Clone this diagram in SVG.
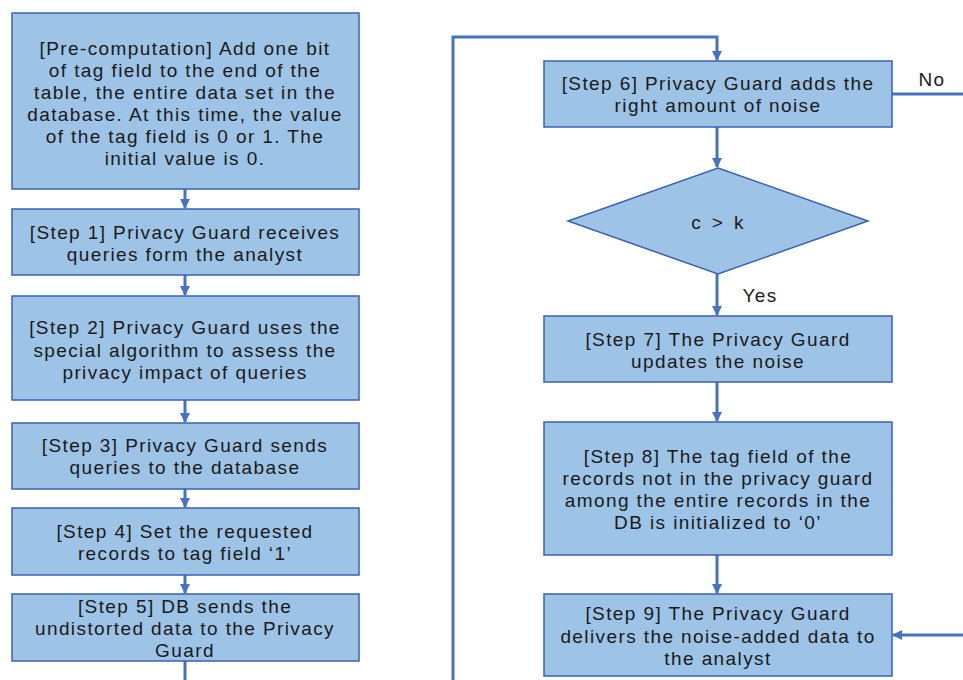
<svg xmlns="http://www.w3.org/2000/svg" width="963" height="680" viewBox="0 0 963 680">
<style>
.box{fill:#9DC3E6;stroke:#3A62B0;stroke-width:1.5}
.t{font-family:"Liberation Sans",Arial,sans-serif;font-size:19px;letter-spacing:1.4px;fill:#1a1a1a;text-anchor:middle;dominant-baseline:central}
.c{fill:none;stroke:#4472C4;stroke-width:3}
</style>
<defs>
<marker id="ah" viewBox="0 0 10 10" refX="9" refY="5" markerWidth="3.6" markerHeight="3.4" orient="auto" markerUnits="strokeWidth">
<path d="M0,0 L10,5 L0,10 z" fill="#4472C4"/>
</marker>
</defs>
<rect width="963" height="680" fill="#fff"/>
<g id="connectors">
<path class="c" d="M185,189 V208" marker-end="url(#ah)"/>
<path class="c" d="M185,275 V295" marker-end="url(#ah)"/>
<path class="c" d="M185,400 V422" marker-end="url(#ah)"/>
<path class="c" d="M185,489 V507" marker-end="url(#ah)"/>
<path class="c" d="M185,575 V593" marker-end="url(#ah)"/>
<path class="c" d="M185,661 V680"/>
<path class="c" d="M453,680 V37 H717 V60" marker-end="url(#ah)"/>
<path class="c" d="M717,127 V167" marker-end="url(#ah)"/>
<path class="c" d="M717,274 V315" marker-end="url(#ah)"/>
<path class="c" d="M717,382 V421" marker-end="url(#ah)"/>
<path class="c" d="M717,555 V593" marker-end="url(#ah)"/>
<path class="c" d="M892,94 H963"/>
<path class="c" d="M963,635 H893" marker-end="url(#ah)"/>
</g>
<g id="pre">
<rect class="box" x="12" y="13" width="347" height="176"/>
<text class="t" x="185" y="48">[Pre-computation] Add one bit</text>
<text class="t" x="185" y="70">of tag field to the end of the</text>
<text class="t" x="185" y="92">table, the entire data set in the</text>
<text class="t" x="185" y="114">database. At this time, the value</text>
<text class="t" x="185" y="136">of the tag field is 0 or 1. The</text>
<text class="t" x="185" y="158">initial value is 0.</text>
</g>
<g id="step1">
<rect class="box" x="12" y="209" width="347" height="66"/>
<text class="t" x="185" y="232">[Step 1] Privacy Guard receives</text>
<text class="t" x="185" y="254">queries form the analyst</text>
</g>
<g id="step2">
<rect class="box" x="12" y="296" width="347" height="104"/>
<text class="t" x="185" y="327">[Step 2] Privacy Guard uses the</text>
<text class="t" x="185" y="350">special algorithm to assess the</text>
<text class="t" x="185" y="372">privacy impact of queries</text>
</g>
<g id="step3">
<rect class="box" x="12" y="423" width="347" height="66"/>
<text class="t" x="185" y="445">[Step 3] Privacy Guard sends</text>
<text class="t" x="185" y="467">queries to the database</text>
</g>
<g id="step4">
<rect class="box" x="12" y="508" width="347" height="67"/>
<text class="t" x="185" y="531">[Step 4] Set the requested</text>
<text class="t" x="185" y="553">records to tag field ‘1’</text>
</g>
<g id="step5">
<rect class="box" x="12" y="594" width="347" height="67"/>
<text class="t" x="185" y="606">[Step 5] DB sends the</text>
<text class="t" x="185" y="628">undistorted data to the Privacy</text>
<text class="t" x="185" y="650">Guard</text>
</g>
<g id="step6">
<rect class="box" x="544" y="61" width="348" height="66"/>
<text class="t" x="718" y="83">[Step 6] Privacy Guard adds the</text>
<text class="t" x="718" y="105">right amount of noise</text>
</g>
<g id="decision">
<polygon class="box" points="718,168 868,221 718,274 568,221"/>
<text class="t" x="718" y="222" style="word-spacing:3px">c &gt; k</text>
</g>
<g id="step7">
<rect class="box" x="544" y="316" width="348" height="66"/>
<text class="t" x="718" y="339">[Step 7] The Privacy Guard</text>
<text class="t" x="718" y="361">updates the noise</text>
</g>
<g id="step8">
<rect class="box" x="544" y="422" width="348" height="133"/>
<text class="t" x="718" y="456">[Step 8] The tag field of the</text>
<text class="t" x="718" y="478">records not in the privacy guard</text>
<text class="t" x="718" y="500">among the entire records in the</text>
<text class="t" x="718" y="522">DB is initialized to ‘0’</text>
</g>
<g id="step9">
<rect class="box" x="544" y="594" width="348" height="82"/>
<text class="t" x="718" y="613">[Step 9] The Privacy Guard</text>
<text class="t" x="718" y="636">delivers the noise-added data to</text>
<text class="t" x="718" y="658">the analyst</text>
</g>
<g id="labels">
<text class="t" x="932" y="79">No</text>
<text class="t" x="760" y="295">Yes</text>
</g>
</svg>
